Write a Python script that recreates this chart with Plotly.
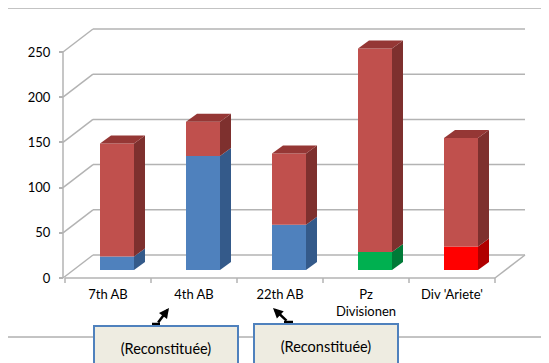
import plotly.graph_objects as go

# ---------------- data ----------------
categories = ["7th AB", "4th AB", "22th AB", "Pz<br>Divisionen", "Div 'Ariete'"]
base_vals = [15, 126, 50, 20, 26]
top_vals = [125, 38, 79, 225, 120]
y_ticks = [0, 50, 100, 150, 200, 250]
callout_text = "(Reconstituée)"

# ---------------- style ----------------
PAGE_OFF = 8                     # default page body margin
W, H = 549 - PAGE_OFF, 363 - PAGE_OFF
FONT = "Lato"
X0PX, CAT_PX = 65 - PAGE_OFF, 86
Y0PX, PX_PER_UNIT = 278 - PAGE_OFF, 0.904

def px2x(px):
    return (px - X0PX) / CAT_PX - 0.5

def dpx_x(d):
    return d / CAT_PX

def dpx_y(d):
    return d / PX_PER_UNIT

def pxp(px):   # reference px -> paper x
    return (px - PAGE_OFF) / W

def pyp(py):   # reference px -> paper y
    return 1 - (py - PAGE_OFF) / H

BACK_DX, BACK_DY = dpx_x(30), dpx_y(23)
BAR_OFF, BAR_W = dpx_x(9), dpx_x(34)
BASE_Y = dpx_y(8)
DEP_DX, DEP_DY = dpx_x(11), dpx_y(8)
WX0 = px2x(63 - PAGE_OFF)

base_front = ["#4F81BD", "#4F81BD", "#4F81BD", "#00B050", "#FF0000"]
base_side = ["#345A8A", "#345A8A", "#345A8A", "#007A37", "#B00000"]
top_front, top_side, top_top = "#C0504D", "#7E302E", "#953735"
GRID = "#B3B3B3"

n = len(categories)
fig = go.Figure()

xs = [i + BAR_OFF for i in range(n)]
fig.add_trace(go.Bar(x=xs, y=base_vals, base=[BASE_Y] * n, width=BAR_W,
                     marker=dict(color=base_front, line=dict(width=0)),
                     name="Base", hoverinfo="y"))
fig.add_trace(go.Bar(x=xs, y=top_vals, base=[BASE_Y + b for b in base_vals], width=BAR_W,
                     marker=dict(color=top_front, line=dict(width=0)),
                     name="Total", hoverinfo="y"))

def poly(xp, yp, color):
    fig.add_trace(go.Scatter(x=xp + [xp[0]], y=yp + [yp[0]], mode="lines", fill="toself",
                             fillcolor=color, line=dict(width=0, color=color),
                             hoverinfo="skip", showlegend=False))

for i, (b, t) in enumerate(zip(base_vals, top_vals)):
    xl = i + BAR_OFF - BAR_W / 2
    xr = xl + BAR_W
    segs = [(BASE_Y, BASE_Y + b, base_side[i]), (BASE_Y + b, BASE_Y + b + t, top_side)]
    for y0, y1, c in segs:
        poly([xr, xr + DEP_DX, xr + DEP_DX, xr], [y0, y0 + DEP_DY, y1 + DEP_DY, y1], c)
    ytop = BASE_Y + b + t
    poly([xl, xl + DEP_DX, xr + DEP_DX, xr], [ytop, ytop + DEP_DY, ytop + DEP_DY, ytop], top_top)

shapes = []
xmax = n - 0.5
for v in y_ticks:
    shapes.append(dict(type="line", xref="x", yref="y", x0=WX0, y0=v, x1=WX0 + BACK_DX, y1=v + BACK_DY,
                       line=dict(color=GRID, width=1.5), layer="below"))
    shapes.append(dict(type="line", xref="x", yref="y", x0=WX0 + BACK_DX, y0=v + BACK_DY,
                       x1=xmax + BACK_DX, y1=v + BACK_DY, line=dict(color=GRID, width=1.5), layer="below"))
shapes.append(dict(type="line", xref="x", yref="y", x0=-0.5, y0=0, x1=xmax, y1=0,
                   line=dict(color=GRID, width=1.5), layer="below"))
shapes.append(dict(type="line", xref="x", yref="y", x0=xmax, y0=0, x1=xmax + BACK_DX, y1=BACK_DY,
                   line=dict(color=GRID, width=1.5), layer="below"))
shapes.append(dict(type="line", xref="x", yref="y", x0=WX0, y0=0, x1=WX0, y1=y_ticks[-1],
                   line=dict(color=GRID, width=1.5), layer="below"))
for k in range(n + 1):
    bx = k - 0.5
    shapes.append(dict(type="line", xref="x", yref="y", x0=bx, y0=0, x1=bx, y1=-dpx_y(5),
                       line=dict(color=GRID, width=1.5), layer="below"))
shapes.append(dict(type="rect", xref="paper", yref="paper", x0=pxp(5), y0=pyp(337), x1=1.05, y1=pyp(8),
                   line=dict(color="#888888", width=1), layer="below"))
# small connector feet of the callout arrows
for fx0, fx1, fy in [(152, 160, 324), (284, 293, 322)]:
    shapes.append(dict(type="line", xref="paper", yref="paper", x0=pxp(fx0), x1=pxp(fx1),
                       y0=pyp(fy), y1=pyp(fy), line=dict(color="#000000", width=2.5), layer="above"))

annotations = []
for cx, top in [(166, 325), (325.5, 323)]:
    annotations.append(dict(xref="paper", yref="paper", x=pxp(cx), y=pyp(top), xanchor="center",
                            yanchor="top", text=callout_text, showarrow=False, bgcolor="#EEECE1",
                            bordercolor="#4F81BD", borderwidth=2, borderpad=0, width=142, height=42,
                            font=dict(family=FONT, size=14.5, color="#000000"), valign="middle"))
for hx, hy, tx, ty in [(169, 308, 157, 324), (273, 308, 288, 322)]:
    annotations.append(dict(xref="paper", yref="paper", x=pxp(hx), y=pyp(hy), ax=tx - hx, ay=ty - hy,
                            text="", showarrow=True, arrowhead=2, arrowsize=0.8, arrowwidth=2.5,
                            arrowcolor="#000000"))

fig.update_layout(
    width=W, height=H, autosize=False,
    margin=dict(l=0, r=0, t=0, b=0),
    paper_bgcolor="white", plot_bgcolor="white",
    barmode="overlay", showlegend=False,
    font=dict(family=FONT, size=13, color="#000000"),
    shapes=shapes, annotations=annotations,
    xaxis=dict(range=[px2x(0), px2x(W)], tickvals=list(range(n)), ticktext=categories,
               showgrid=False, zeroline=False, showline=False, ticks="",
               anchor="free", position=1 - Y0PX / H, ticklabelstandoff=7,
               tickfont=dict(family=FONT, size=13, color="#000000")),
    yaxis=dict(range=[(Y0PX - H) / PX_PER_UNIT, Y0PX / PX_PER_UNIT], tickvals=y_ticks,
               showgrid=False, zeroline=False, showline=False, ticks="outside", ticklen=4,
               tickcolor=GRID, tickwidth=1.5, anchor="free", position=(63 - PAGE_OFF) / W,
               ticklabelstandoff=6, tickfont=dict(family=FONT, size=13, color="#000000")),
)

fig.write_html("out.html")
